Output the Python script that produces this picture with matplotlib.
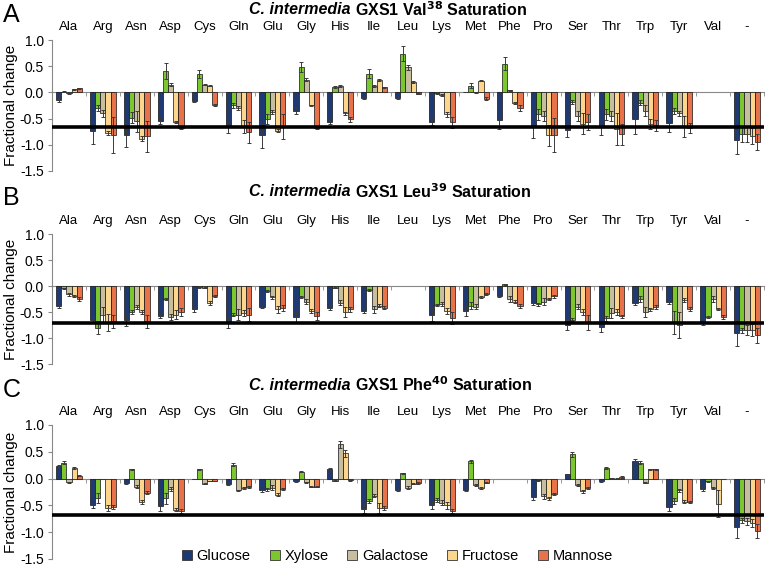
import numpy as np
import matplotlib
matplotlib.use("Agg")
import matplotlib.pyplot as plt
from matplotlib.patches import Patch

plt.rcParams['font.family'] = ['Liberation Sans', 'DejaVu Sans']

categories = ["Ala", "Arg", "Asn", "Asp", "Cys", "Gln", "Glu", "Gly", "His", "Ile", "Leu",
              "Lys", "Met", "Phe", "Pro", "Ser", "Thr", "Trp", "Tyr", "Val", "-"]
series = ["Glucose", "Xylose", "Galactose", "Fructose", "Mannose"]
colors = ["#1F3A73", "#7CC72E", "#C6BE9E", "#FCD68C", "#E8724A"]
nan = np.nan

titles = [("C. intermedia ", "GXS1 Val$^{\\mathbf{38}}$ Saturation"),
          ("C. intermedia ", "GXS1 Leu$^{\\mathbf{39}}$ Saturation"),
          ("C. intermedia ", "GXS1 Phe$^{\\mathbf{40}}$ Saturation")]
panel_letters = ["A", "B", "C"]
thresholds = [-0.66, -0.72, -0.68]

# ---- Panel A (Val38) ----
A_glucose = [-0.15, -0.74, -0.82, -0.55, -0.17, -0.66, -0.82, -0.35, -0.56, -0.10, -0.10,
             -0.56, 0.00, -0.52, -0.65, -0.72, -0.66, -0.50, -0.58, nan, -0.90]
A_xylose = [0.01, -0.30, -0.48, 0.41, 0.35, -0.25, -0.51, 0.48, 0.10, 0.36, 0.74,
            -0.02, 0.13, 0.55, -0.42, -0.18, -0.42, -0.20, -0.36, nan, -0.80]
A_galactose = [-0.02, -0.40, -0.55, 0.15, 0.15, -0.30, -0.38, 0.24, 0.12, 0.12, 0.48,
               -0.05, 0.00, 0.04, -0.45, -0.45, -0.45, -0.35, -0.40, nan, -0.80]
A_fructose = [0.06, -0.78, -0.88, -0.56, 0.13, -0.65, -0.73, -0.25, -0.40, 0.24, 0.20,
              -0.42, 0.22, -0.20, -0.82, -0.60, -0.70, -0.60, -0.65, nan, -0.83]
A_mannose = [0.08, -0.81, -0.84, -0.68, -0.24, -0.76, -0.65, -0.68, -0.51, 0.10, -0.03,
             -0.57, -0.12, -0.30, -0.81, -0.57, -0.80, -0.63, -0.68, nan, -0.95]
A_err_glucose = [0.04, 0.24, 0.23, 0.06, 0.02, 0.12, 0.24, 0.07, 0.05, 0.02, 0.02,
                 0.06, 0.00, 0.17, 0.22, 0.14, 0.15, 0.30, 0.18, 0, 0.27]
A_err_xylose = [0.01, 0.06, 0.10, 0.15, 0.07, 0.05, 0.10, 0.10, 0.02, 0.08, 0.15,
                0.01, 0.04, 0.12, 0.10, 0.04, 0.10, 0.05, 0.06, 0, 0.15]
A_err_galactose = [0.01, 0.06, 0.20, 0.03, 0.01, 0.04, 0.04, 0.03, 0.02, 0.02, 0.05,
                   0.01, 0.01, 0.01, 0.10, 0.10, 0.10, 0.10, 0.05, 0, 0.15]
A_err_fructose = [0.01, 0.04, 0.05, 0.02, 0.01, 0.12, 0.03, 0.01, 0.03, 0.02, 0.02,
                  0.05, 0.01, 0.02, 0.20, 0.20, 0.30, 0.10, 0.20, 0, 0.15]
A_err_mannose = [0.01, 0.35, 0.30, 0.02, 0.02, 0.20, 0.23, 0.02, 0.05, 0.01, 0.01,
                 0.10, 0.03, 0.05, 0.33, 0.15, 0.20, 0.10, 0.10, 0, 0.15]

# ---- Panel B (Leu39) ----
B_glucose = [-0.38, -0.65, -0.66, -0.58, -0.45, -0.70, -0.40, -0.60, -0.42, -0.48, nan,
             -0.55, -0.48, -0.20, -0.33, -0.75, -0.78, -0.32, -0.30, -0.72, -0.90]
B_xylose = [-0.04, -0.80, -0.50, -0.25, -0.02, -0.55, -0.10, -0.22, -0.03, -0.08, nan,
            -0.36, -0.38, 0.03, -0.35, -0.65, -0.62, -0.25, -0.70, -0.60, -0.85]
B_galactose = [-0.16, -0.55, -0.40, -0.60, -0.03, -0.55, -0.22, -0.30, -0.32, -0.45, nan,
               -0.35, -0.40, -0.25, -0.30, -0.40, -0.52, -0.50, -0.75, -0.25, -0.85]
B_fructose = [-0.20, -0.70, -0.50, -0.55, -0.33, -0.52, -0.45, -0.48, -0.50, -0.38, nan,
              -0.48, -0.22, -0.30, -0.25, -0.50, -0.50, -0.45, -0.27, -0.45, -0.85]
B_mannose = [-0.25, -0.68, -0.68, -0.50, -0.20, -0.55, -0.42, -0.58, -0.45, -0.42, nan,
             -0.62, -0.15, -0.38, -0.20, -0.70, -0.58, -0.40, -0.45, -0.60, -0.95]
B_err_glucose = [0.05, 0.05, 0.10, 0.04, 0.05, 0.10, 0.03, 0.10, 0.05, 0.04, 0,
                 0.13, 0.10, 0.02, 0.04, 0.10, 0.10, 0.04, 0.05, 0.03, 0.25]
B_err_xylose = [0.01, 0.12, 0.04, 0.02, 0.01, 0.03, 0.02, 0.02, 0.01, 0.02, 0,
                0.02, 0.07, 0.01, 0.03, 0.03, 0.05, 0.05, 0.22, 0.02, 0.05]
B_err_galactose = [0.03, 0.15, 0.04, 0.06, 0.01, 0.10, 0.03, 0.05, 0.05, 0.06, 0,
                   0.04, 0.05, 0.05, 0.06, 0.05, 0.10, 0.10, 0.25, 0.05, 0.10]
B_err_fructose = [0.02, 0.17, 0.03, 0.08, 0.04, 0.05, 0.07, 0.04, 0.10, 0.03, 0,
                  0.05, 0.02, 0.03, 0.02, 0.05, 0.05, 0.03, 0.03, 0.02, 0.12]
B_err_mannose = [0.03, 0.12, 0.12, 0.07, 0.02, 0.12, 0.06, 0.08, 0.05, 0.03, 0,
                 0.12, 0.02, 0.04, 0.03, 0.15, 0.03, 0.04, 0.04, 0.04, 0.15]

# ---- Panel C (Phe40) ----
C_glucose = [0.24, -0.50, -0.09, -0.52, 0.00, -0.11, -0.22, -0.05, 0.18, -0.56, -0.22,
             -0.50, -0.22, nan, -0.35, 0.08, -0.05, 0.33, -0.53, -0.20, -0.90]
C_xylose = [0.30, -0.36, 0.17, -0.37, 0.17, 0.26, -0.20, 0.13, -0.04, -0.42, 0.10,
            -0.40, 0.32, nan, -0.03, 0.45, 0.20, 0.30, -0.42, -0.05, -0.78]
C_galactose = [-0.07, 0.00, -0.15, -0.20, -0.10, -0.22, -0.17, -0.07, 0.64, -0.32, -0.17,
               -0.45, -0.12, nan, -0.33, -0.12, 0.01, -0.08, -0.22, -0.17, -0.80]
C_fructose = [0.20, -0.55, -0.43, -0.58, -0.04, -0.18, -0.30, -0.15, 0.47, -0.55, -0.10,
              -0.50, -0.18, nan, -0.37, -0.24, 0.00, 0.17, -0.43, -0.47, -0.83]
C_mannose = [0.05, -0.53, -0.26, -0.60, -0.04, -0.15, -0.20, -0.15, -0.03, -0.55, -0.08,
             -0.60, -0.08, nan, -0.28, -0.18, 0.03, 0.17, -0.44, 0.00, -0.97]
C_err_glucose = [0.02, 0.05, 0.01, 0.08, 0.00, 0.01, 0.03, 0.01, 0.02, 0.08, 0.02,
                 0.06, 0.02, 0, 0.04, 0.01, 0.01, 0.03, 0.08, 0.03, 0.20]
C_err_xylose = [0.03, 0.10, 0.01, 0.10, 0.01, 0.03, 0.03, 0.01, 0.01, 0.04, 0.01,
                0.03, 0.02, 0, 0.01, 0.05, 0.02, 0.02, 0.05, 0.01, 0.05]
C_err_galactose = [0.01, 0.00, 0.03, 0.04, 0.01, 0.01, 0.05, 0.01, 0.06, 0.03, 0.03,
                   0.05, 0.01, 0, 0.05, 0.01, 0.01, 0.01, 0.03, 0.02, 0.07]
C_err_fructose = [0.02, 0.06, 0.04, 0.03, 0.00, 0.02, 0.03, 0.01, 0.06, 0.10, 0.01,
                  0.06, 0.02, 0, 0.03, 0.02, 0.01, 0.01, 0.03, 0.25, 0.07]
C_err_mannose = [0.01, 0.03, 0.03, 0.04, 0.00, 0.02, 0.02, 0.01, 0.01, 0.04, 0.02,
                 0.04, 0.01, 0, 0.02, 0.02, 0.01, 0.01, 0.02, 0.00, 0.13]

panels = [
    ([A_glucose, A_xylose, A_galactose, A_fructose, A_mannose],
     [A_err_glucose, A_err_xylose, A_err_galactose, A_err_fructose, A_err_mannose]),
    ([B_glucose, B_xylose, B_galactose, B_fructose, B_mannose],
     [B_err_glucose, B_err_xylose, B_err_galactose, B_err_fructose, B_err_mannose]),
    ([C_glucose, C_xylose, C_galactose, C_fructose, C_mannose],
     [C_err_glucose, C_err_xylose, C_err_galactose, C_err_fructose, C_err_mannose]),
]

fig = plt.figure(figsize=(7.68, 5.68), dpi=100)
W, H = 768.0, 568.0
axes_px = [(40, 171), (234, 364), (425, 559)]
title_y = [10, 192, 385]
letter_y = [15, 198, 390]

x = np.arange(len(categories))
bw = 0.152
offsets = (np.arange(5) - 2) * bw

for p, ((vals, errs), (top, bot)) in enumerate(zip(panels, axes_px)):
    ax = fig.add_axes([52 / W, 1 - bot / H, (764 - 52) / W, (bot - top) / H])
    for s in range(5):
        v = np.array(vals[s], dtype=float)
        e = np.array(errs[s], dtype=float)
        ax.bar(x + offsets[s], v, width=bw, color=colors[s], edgecolor="#111111",
               linewidth=0.5, zorder=2, label=series[s])
        ax.errorbar(x + offsets[s], v, yerr=e, fmt="none", ecolor="#3a3a3a",
                    elinewidth=0.7, capsize=1.6, capthick=0.7, zorder=3)
    ax.axhline(thresholds[p], color="black", linewidth=2.6, zorder=5)
    ax.set_xlim(-0.5, len(categories) - 0.5)
    ax.set_ylim(-1.5, 1.0)
    ax.set_yticks([1.0, 0.5, 0.0, -0.5, -1.0, -1.5])
    ax.set_yticklabels(["1.0", "0.5", "0.0", "-0.5", "-1.0", "-1.5"], fontsize=10)
    ax.spines["top"].set_visible(False)
    ax.spines["right"].set_visible(False)
    ax.spines["left"].set_color("#888888")
    ax.spines["bottom"].set_position(("data", 0))
    ax.spines["bottom"].set_color("#888888")
    ax.spines["bottom"].set_zorder(1)
    ax.set_xticks(x)
    ax.set_xticklabels(categories, fontsize=9.5)
    ax.set_xticks(np.arange(len(categories) + 1) - 0.5, minor=True)
    ax.tick_params(axis="x", which="major", length=0, labeltop=True, labelbottom=False,
                   top=False, bottom=False, pad=5)
    ax.tick_params(axis="x", which="minor", length=3, color="#888888", direction="out",
                   bottom=True, top=False)
    ax.tick_params(axis="y", length=3, color="#888888", direction="out", pad=3)
    ax.set_ylabel("Fractional change", fontsize=11, labelpad=1)
    ax.patch.set_alpha(0)

    t1 = fig.text(249 / W, 1 - title_y[p] / H, titles[p][0], fontsize=11.5,
                  fontweight="bold", fontstyle="italic", ha="left", va="center")
    ax.annotate(titles[p][1], xy=(1, 0.5), xycoords=t1, ha="left", va="center",
                fontsize=11.5, fontweight="bold")
    fig.text(3 / W, 1 - letter_y[p] / H, panel_letters[p], fontsize=18,
             ha="left", va="center")

    if p == 2:
        handles = [Patch(facecolor=colors[s], edgecolor="#333333", linewidth=0.6,
                         label=series[s]) for s in range(5)]
        ax.legend(handles=handles, loc="lower center", bbox_to_anchor=(0.485, -0.13),
                  ncol=5, frameon=False, fontsize=10.5, handlelength=0.7,
                  handleheight=0.7, handletextpad=0.3, columnspacing=1.3)

fig.savefig("out.png", dpi=100)
